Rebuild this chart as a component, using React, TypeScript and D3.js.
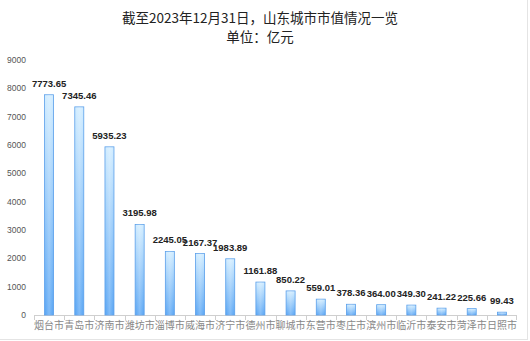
import React from "react";
import * as d3 from "d3";

const cities = ["烟台市","青岛市","济南市","潍坊市","淄博市","威海市","济宁市","德州市","聊城市","东营市","枣庄市","滨州市","临沂市","泰安市","菏泽市","日照市"];
const values = [7773.65,7345.46,5935.23,3195.98,2245.05,2167.37,1983.89,1161.88,850.22,559.01,378.36,364.00,349.30,241.22,225.66,99.43];
const yTicks = [0,1000,2000,3000,4000,5000,6000,7000,8000,9000];
const titleLines = ["截至2023年12月31日，山东城市市值情况一览", "单位：亿元"];

export default function App() {
  const W = 530, H = 341;
  const left = 34, right = 517, top = 60, bottom = 315;
  const x = d3.scaleBand<string>().domain(cities).range([left, right]);
  const y = d3.scaleLinear().domain([0, 9000]).range([bottom, top]);
  const bw = 9;
  return (
    <svg width={W} height={H} style={{ position: "absolute", left: 0, top: 0, background: "#fff" }}>
      <defs>
        <linearGradient id="bg" x1="0" y1="0" x2="0" y2="1">
          <stop offset="0%" stopColor="#d0ecff" />
          <stop offset="100%" stopColor="#56a4f4" />
        </linearGradient>
        <linearGradient id="hg" x1="0" y1="0" x2="1" y2="0">
          <stop offset="0%" stopColor="#ffffff" stopOpacity="0" />
          <stop offset="50%" stopColor="#ffffff" stopOpacity="0.25" />
          <stop offset="100%" stopColor="#ffffff" stopOpacity="0" />
        </linearGradient>
      </defs>
      <rect x={0} y={0} width={W} height={H} fill="#fff" />
      <line x1={527.5} x2={527.5} y1={0} y2={340} stroke="#e4e4e4" />
      <line x1={0} x2={528} y1={339.5} y2={339.5} stroke="#e4e4e4" />
      <g fontFamily="'Noto Sans CJK SC', sans-serif" fontSize={13.5} fill="#222" textAnchor="middle">
        <text x={260} y={23}>{titleLines[0]}</text>
        <text x={260} y={42}>{titleLines[1]}</text>
      </g>
      <g fontFamily="'Liberation Sans', Arial, sans-serif" fontSize={8.5} fill="#555" textAnchor="end">
        {yTicks.map(t => (
          <text key={t} x={26} y={y(t) + 3}>{t}</text>
        ))}
      </g>
      <line x1={left} x2={right} y1={bottom + 0.5} y2={bottom + 0.5} stroke="#cfcfcf" />
      {cities.map((c) => (
        <line key={"t" + c} x1={Math.round(x(c)!) + 0.5} x2={Math.round(x(c)!) + 0.5} y1={bottom} y2={bottom + 5} stroke="#cfcfcf" />
      ))}
      <line x1={right - 0.5} x2={right - 0.5} y1={bottom} y2={bottom + 5} stroke="#cfcfcf" />
      {cities.map((c, i) => {
        const cx = x(c)! + x.bandwidth() / 2;
        const yt = y(values[i]);
        return (
          <g key={c}>
            <rect x={cx - bw / 2} y={yt} width={bw} height={bottom - yt} fill="url(#bg)" stroke="#5a9fea" strokeWidth={0.8} />
            <rect x={cx - bw / 2} y={yt} width={bw} height={bottom - yt} fill="url(#hg)" />
          </g>
        );
      })}
      <g fontFamily="'Liberation Sans', Arial, sans-serif" fontSize={9.5} fontWeight="bold" fill="#222" textAnchor="middle">
        {cities.map((c, i) => (
          <text key={"v" + c} x={x(c)! + x.bandwidth() / 2} y={y(values[i]) - 8}>{values[i].toFixed(2)}</text>
        ))}
      </g>
      <g fontFamily="'Noto Sans CJK SC', serif" fontSize={10} fill="#888" textAnchor="middle">
        {cities.map(c => (
          <text key={"c" + c} x={x(c)! + x.bandwidth() / 2} y={329}>{c}</text>
        ))}
      </g>
    </svg>
  );
}
